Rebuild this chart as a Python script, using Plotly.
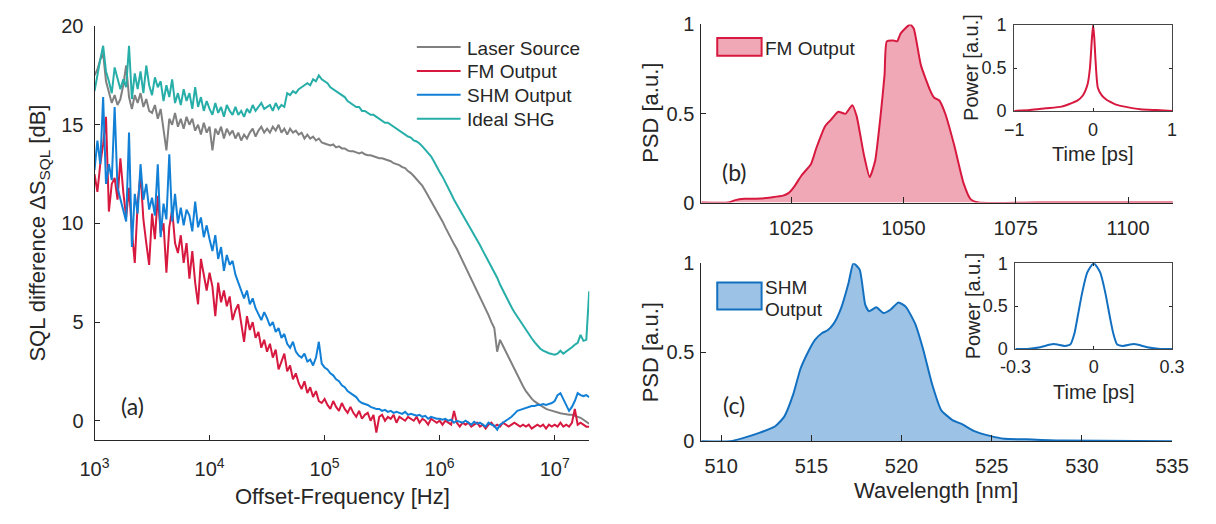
import numpy as np
import plotly.graph_objects as go

W, H = 1216, 524
FONT = "Liberation Sans, Arial, Helvetica, sans-serif"
LABEL_FONT = "Lato, Open Sans, sans-serif"
INK = "#262626"

C_LASER = "#808080"
C_FM = "#D7193F"
C_SHM = "#1280D6"
C_SHG = "#27AEA8"
C_SHM_SPEC = "#1370C0"

# ---------------- (a) SQL difference vs offset frequency ----------------
# 0.025-decade sampling from 1 kHz to 20 MHz
log_freq = np.round(3.0 + 0.025 * np.arange(173), 3)
freq_hz = 10 ** log_freq

laser_source_rows = [
    [17.5, 17.8, 18.3, 18.6, 17.2, 16.7, 16.1, 16.5, 16.0, 16.3],
    [17.0, 18.0, 16.4, 15.8, 16.5, 16.1, 16.6, 15.9, 16.3, 15.7],
    [15.6, 16.0, 15.3, 15.8, 14.8, 13.7, 15.3, 15.0, 15.6, 14.9],
    [15.3, 14.8, 15.4, 15.0, 15.3, 14.7, 15.0, 14.5, 15.1, 14.6],
    [14.9, 13.7, 14.8, 14.5, 14.9, 14.3, 14.8, 14.5, 14.7, 14.3],
    [14.6, 14.2, 14.5, 14.3, 14.6, 14.8, 14.4, 14.7, 14.9, 14.6],
    [14.8, 14.6, 14.9, 14.7, 15.0, 14.6, 14.8, 14.5, 14.8, 14.6],
    [14.7, 14.5, 14.6, 14.3, 14.5, 14.3, 14.4, 14.2, 14.3, 14.1],
    [14.05, 14.0, 13.95, 14.0, 13.85, 13.9, 13.8, 13.8, 13.7, 13.65],
    [13.65, 13.6, 13.55, 13.6, 13.5, 13.45, 13.45, 13.4, 13.35, 13.3],
    [13.3, 13.25, 13.2, 13.15, 13.05, 13.0, 12.95, 12.85, 12.8, 12.65],
    [12.55, 12.4, 12.25, 12.1, 11.9, 11.65, 11.4, 11.15, 10.9, 10.6],
    [10.35, 10.1, 9.8, 9.5, 9.25, 8.95, 8.7, 8.4, 8.1, 7.8],
    [7.5, 7.2, 6.9, 6.6, 6.3, 6.0, 5.65, 5.35, 5.0, 4.7],
    [3.5, 4.1, 3.8, 3.5, 3.2, 2.9, 2.6, 2.3, 2.0, 1.75],
    [1.5, 1.3, 1.12, 0.98, 0.88, 0.8, 0.7, 0.6, 0.55, 0.5],
    [0.45, 0.42, 0.38, 0.35, 0.32, 0.3, 0.3, 0.25, 0.22, 0.15],
    [0.05, -0.05, -0.15],
]

fm_output_rows = [
    [12.5, 11.6, 13.0, 14.0, 15.4, 10.6, 12.0, 12.3, 11.2, 13.3],
    [11.6, 10.3, 11.8, 9.6, 8.0, 11.0, 12.5, 10.2, 9.0, 7.9],
    [10.5, 9.2, 11.4, 9.5, 10.0, 7.5, 9.8, 10.7, 9.0, 8.5],
    [9.4, 8.0, 9.0, 7.2, 8.6, 7.0, 5.9, 8.2, 7.4, 6.6],
    [7.5, 6.8, 5.3, 7.0, 6.0, 6.6, 5.8, 6.3, 5.1, 5.6],
    [5.9, 5.0, 4.0, 5.3, 4.6, 5.0, 4.2, 4.5, 3.7, 4.1],
    [3.5, 3.9, 3.2, 3.6, 2.6, 3.0, 3.4, 2.5, 2.8, 2.1],
    [2.4, 1.9, 1.6, 2.0, 1.4, 1.7, 1.2, 1.5, 1.0, 0.9],
    [1.1, 0.8, 0.6, 1.0, 0.7, 0.5, 0.9, 0.6, 0.4, 0.7],
    [0.4, 0.2, 0.5, 0.1, 0.3, 0.4, 0.0, 0.3, -0.6, 0.2],
    [0.3, 0.0, 0.2, 0.1, 0.3, -0.1, 0.2, 0.1, 0.0, 0.2],
    [0.1, 0.0, 0.2, -0.1, 0.1, 0.0, -0.2, 0.1, 0.0, -0.1],
    [0.0, -0.2, 0.0, -0.1, -0.2, 0.5, -0.1, -0.3, -0.1, -0.2],
    [-0.1, -0.3, -0.2, -0.1, -0.3, -0.2, -0.4, -0.2, -0.1, -0.3],
    [-0.2, -0.3, -0.1, -0.2, -0.3, -0.2, -0.1, -0.2, -0.3, -0.2],
    [-0.3, -0.2, -0.4, -0.3, -0.2, -0.3, -0.2, -0.4, -0.2, -0.3],
    [-0.2, -0.3, -0.1, -0.3, -0.2, -0.3, -0.1, 0.6, -0.2, -0.1],
    [-0.2, -0.3, -0.3],
]

shm_output_rows = [
    [12.7, 14.2, 13.0, 16.4, 12.0, 13.0, 12.2, 15.9, 11.8, 11.2],
    [10.6, 10.1, 14.6, 8.8, 11.5, 10.5, 13.0, 11.2, 12.0, 10.7],
    [11.3, 10.4, 13.0, 9.3, 11.0, 10.2, 13.5, 10.1, 11.5, 10.0],
    [10.8, 9.9, 10.7, 10.4, 9.6, 11.1, 9.8, 10.3, 9.3, 9.9],
    [9.2, 8.6, 9.4, 8.2, 8.8, 7.6, 8.4, 7.9, 8.1, 7.4],
    [7.0, 6.6, 6.2, 6.6, 5.9, 6.2, 5.7, 5.4, 5.1, 5.5],
    [5.2, 4.8, 5.0, 4.5, 4.7, 4.2, 4.4, 3.9, 3.7, 4.0],
    [3.5, 3.3, 3.2, 3.4, 3.0, 3.1, 2.8, 3.2, 4.0, 2.9],
    [2.7, 2.6, 2.4, 2.3, 2.1, 2.0, 1.8, 1.7, 1.5, 1.4],
    [1.3, 1.2, 1.0, 0.9, 0.85, 0.8, 0.7, 0.65, 0.6, 0.6],
    [0.5, 0.55, 0.45, 0.5, 0.4, 0.45, 0.4, 0.35, 0.45, 0.3],
    [0.35, 0.3, 0.25, 0.3, 0.2, 0.25, 0.1, 0.2, 0.15, 0.1],
    [0.1, 0.05, 0.1, 0.0, 0.05, -0.1, 0.0, -0.05, -0.1, 0.0],
    [-0.1, -0.2, -0.05, -0.15, -0.1, -0.2, -0.3, -0.1, -0.2, -0.25],
    [-0.45, -0.2, -0.1, 0.0, 0.1, 0.2, 0.35, 0.5, 0.55, 0.6],
    [0.65, 0.7, 0.75, 0.75, 0.8, 0.8, 0.85, 0.8, 0.85, 0.9],
    [1.0, 1.3, 1.4, 1.1, 0.8, 0.5, 0.7, 1.0, 1.4, 1.3],
    [1.25, 1.3, 1.2],
]

ideal_shg_rows = [
    [16.7, 17.6, 18.3, 19.0, 17.7, 17.2, 16.6, 17.9, 17.4, 16.8],
    [17.3, 16.9, 19.0, 16.3, 17.6, 16.8, 17.7, 16.6, 18.0, 17.0],
    [16.5, 17.4, 16.9, 17.2, 16.2, 17.0, 16.4, 17.3, 16.1, 16.6],
    [16.0, 16.8, 16.2, 16.6, 15.8, 16.9, 15.9, 16.4, 15.7, 16.2],
    [15.8, 15.5, 16.1, 15.6, 15.9, 15.4, 16.0, 15.7, 15.5, 15.9],
    [15.5, 15.7, 15.4, 15.8, 15.6, 16.0, 15.7, 15.9, 16.1, 15.8],
    [15.9, 16.0, 15.7, 16.1, 15.8, 16.0, 15.9, 16.6, 16.5, 16.7],
    [16.6, 16.8, 16.9, 17.0, 17.1, 17.0, 17.3, 17.2, 17.5, 17.3],
    [17.2, 17.1, 16.9, 16.8, 16.7, 16.6, 16.5, 16.4, 16.2, 16.1],
    [16.0, 15.9, 15.9, 15.7, 15.7, 15.6, 15.5, 15.5, 15.4, 15.3],
    [15.2, 15.1, 15.1, 15.0, 14.9, 14.8, 14.7, 14.6, 14.5, 14.4],
    [14.35, 14.2, 14.15, 14.05, 13.9, 13.75, 13.6, 13.4, 13.15, 12.85],
    [12.6, 12.37, 12.1, 11.8, 11.5, 11.2, 10.95, 10.7, 10.45, 10.2],
    [9.9, 9.65, 9.4, 9.15, 8.9, 8.62, 8.35, 8.1, 7.85, 7.55],
    [7.25, 6.9, 6.6, 6.3, 6.0, 5.75, 5.5, 5.27, 5.05, 4.85],
    [4.6, 4.4, 4.18, 3.98, 3.8, 3.65, 3.55, 3.47, 3.42, 3.38],
    [3.35, 3.4, 3.55, 3.4, 3.5, 3.6, 3.72, 3.85, 3.95, 4.35],
    [4.05, 4.1, 6.56],
]


def flat(rows):
    return [v for row in rows for v in row]


laser_source = flat(laser_source_rows)
fm_output = flat(fm_output_rows)
shm_output = flat(shm_output_rows)
ideal_shg = flat(ideal_shg_rows)

freq_ticks = [1e3, 1e4, 1e5, 1e6, 1e7]
freq_tick_text = ["10<sup>3</sup>", "10<sup>4</sup>", "10<sup>5</sup>",
                  "10<sup>6</sup>", "10<sup>7</sup>"]
sql_ticks = [0, 5, 10, 15, 20]

# ---------------- (b) FM output spectrum ----------------
fm_wavelength_nm = [1005, 1011, 1012.6, 1014.6, 1018.3, 1023.2, 1024.4, 1025.7,
                    1027.3, 1029.4, 1030.6, 1032.6, 1033.9, 1035.5, 1037.1, 1038.6,
                    1039.6, 1041.2, 1042.5, 1043.7, 1044.9, 1045.8, 1046.3, 1047.8,
                    1048.6, 1049.4, 1051.5, 1052.3, 1053.9, 1056.0, 1056.8, 1058.0,
                    1059.3, 1061.3, 1063.4, 1065.0, 1066.7, 1080, 1110]
fm_psd = [0, 0, 0.014, 0.021, 0.023, 0.039, 0.053, 0.09,
          0.152, 0.215, 0.305, 0.43, 0.466, 0.51, 0.498, 0.547,
          0.484, 0.269, 0.143, 0.233, 0.484, 0.717, 0.905, 0.91,
          0.905, 0.95, 1.0, 0.977, 0.77, 0.627, 0.59, 0.573,
          0.50, 0.323, 0.108, 0.018, 0.0, 0.0, 0.0]
fm_wl_ticks = [1025, 1050, 1075, 1100]

fm_time_ps = [-1.0, -0.8, -0.6, -0.4, -0.3, -0.25, -0.2, -0.13, -0.07, -0.04, -0.016,
              0.0, 0.015, 0.03, 0.06, 0.11, 0.17, 0.23, 0.3, 0.4, 0.6, 0.8, 1.0]
fm_pulse = [0.0, 0.01, 0.03, 0.05, 0.08, 0.10, 0.12, 0.18, 0.31, 0.5, 0.83,
            1.0, 0.85, 0.6, 0.27, 0.18, 0.13, 0.1, 0.07, 0.05, 0.02, 0.01, 0.0]

# ---------------- (c) SHM output spectrum ----------------
shm_wavelength_nm = [508.9, 510.5, 511.3, 512.15, 513.0, 513.5, 514.0, 514.4, 514.8,
                     515.2, 515.6, 515.9, 516.25, 516.65, 517.07, 517.33, 517.68,
                     517.99, 518.2, 518.6, 519.0, 519.4, 519.83, 520.24, 520.76,
                     521.2, 521.7, 522.2, 522.8, 523.4, 524.0, 524.85, 525.7,
                     526.9, 528.9, 535]
shm_psd = [0, 0, 0.02, 0.048, 0.084, 0.138, 0.264, 0.407, 0.497,
           0.569, 0.608, 0.623, 0.662, 0.748, 0.892, 1.0, 0.964,
           0.766, 0.73, 0.752, 0.72, 0.74, 0.78, 0.755, 0.659,
           0.515, 0.318, 0.174, 0.12, 0.093, 0.058, 0.031, 0.013,
           0.01, 0.003, 0]
shm_wl_ticks = [510, 515, 520, 525, 530, 535]

shm_time_ps = [-0.3, -0.255, -0.205, -0.155, -0.112, -0.09, -0.074, -0.062, -0.044,
               -0.025, 0.0, 0.025, 0.044, 0.062, 0.075, 0.09, 0.112, 0.155, 0.205,
               0.255, 0.3]
shm_pulse = [0.0, 0.0, 0.02, 0.056, 0.035, 0.05, 0.18, 0.37, 0.66,
             0.89, 1.0, 0.89, 0.66, 0.37, 0.18, 0.05, 0.035, 0.056, 0.02,
             0.0, 0.0]

unit_ticks = [0, 0.5, 1]
unit_tick_text = ["0", "0.5", "1"]


# pixel -> paper helpers for layout placement
def px(x):
    return x / W


def py(y):
    return 1 - y / H


def axis_style(**kw):
    style = dict(showline=True, linecolor=INK, linewidth=1, ticks="inside",
                 ticklen=5, tickwidth=1, tickcolor=INK, showgrid=False,
                 zeroline=False, mirror=False,
                 tickfont=dict(family=FONT, size=20, color=INK))
    style.update(kw)
    return style


INSET_TICK_FONT = dict(family=FONT, size=18, color=INK)

fig = go.Figure()

# (a) traces, drawn in legend order
for name, values, color in [("Laser Source", laser_source, C_LASER),
                            ("FM Output", fm_output, C_FM),
                            ("SHM Output", shm_output, C_SHM),
                            ("Ideal SHG", ideal_shg, C_SHG)]:
    fig.add_trace(go.Scatter(x=freq_hz, y=values, mode="lines", name=name,
                             line=dict(color=color, width=2),
                             xaxis="x", yaxis="y", showlegend=False))

# (b) spectrum and pulse
fig.add_trace(go.Scatter(x=fm_wavelength_nm, y=fm_psd, mode="lines", fill="tozeroy",
                         fillcolor="rgba(215,25,63,0.38)",
                         line=dict(color=C_FM, width=2, shape="spline", smoothing=0.5),
                         xaxis="x2", yaxis="y2", showlegend=False))
fig.add_trace(go.Scatter(x=fm_time_ps, y=fm_pulse, mode="lines",
                         line=dict(color=C_FM, width=2, shape="spline", smoothing=0.6),
                         xaxis="x4", yaxis="y4", showlegend=False))

# (c) spectrum and pulse
fig.add_trace(go.Scatter(x=shm_wavelength_nm, y=shm_psd, mode="lines", fill="tozeroy",
                         fillcolor="rgba(19,112,192,0.42)",
                         line=dict(color=C_SHM_SPEC, width=2, shape="spline", smoothing=0.5),
                         xaxis="x3", yaxis="y3", showlegend=False))
fig.add_trace(go.Scatter(x=shm_time_ps, y=shm_pulse, mode="lines",
                         line=dict(color=C_SHM_SPEC, width=2, shape="spline", smoothing=0.6),
                         xaxis="x5", yaxis="y5", showlegend=False))

fig.update_layout(
    width=W, height=H, margin=dict(l=0, r=0, t=0, b=0),
    paper_bgcolor="white", plot_bgcolor="rgba(0,0,0,0)",
    font=dict(family=FONT, color=INK, size=20),
    xaxis=axis_style(type="log", range=[3, np.log10(2e7)], domain=[px(80.7), px(589.3)],
                     anchor="y", tickvals=freq_ticks, ticktext=freq_tick_text,
                     ticklabelstandoff=11),
    yaxis=axis_style(range=[-1, 20], domain=[py(448.3), py(15.7)], anchor="x",
                     tickvals=sql_ticks, ticklabelstandoff=6),
    xaxis2=axis_style(range=[1005, 1110], domain=[px(704.4), px(1189.2)], anchor="y2",
                      tickvals=fm_wl_ticks, ticklen=6, ticklabelstandoff=7),
    yaxis2=axis_style(range=[0, 1], domain=[py(200), py(14)], anchor="x2",
                      tickvals=unit_ticks, ticktext=unit_tick_text, ticklabelstandoff=2),
    xaxis3=axis_style(range=[508.9, 535], domain=[px(704.4), px(1188.4)], anchor="y3",
                      tickvals=shm_wl_ticks, ticklen=6, ticklabelstandoff=7),
    yaxis3=axis_style(range=[0, 1], domain=[py(449), py(263.3)], anchor="x3",
                      tickvals=unit_ticks, ticktext=unit_tick_text, ticklabelstandoff=2),
    xaxis4=axis_style(range=[-1, 1], domain=[px(1026), px(1188.3)], anchor="y4",
                      tickvals=[-1, 0, 1], mirror="ticks", linecolor="#454545",
                      ticklen=3, ticklabelstandoff=2, tickfont=INSET_TICK_FONT),
    yaxis4=axis_style(range=[0, 1], domain=[py(104.3), py(14.7)], anchor="x4",
                      tickvals=unit_ticks, ticktext=unit_tick_text, mirror="ticks",
                      linecolor="#454545", ticklen=3, ticklabelstandoff=3,
                      tickfont=INSET_TICK_FONT),
    xaxis5=axis_style(range=[-0.3, 0.3], domain=[px(1027.3), px(1188.3)], anchor="y5",
                      tickvals=[-0.3, 0, 0.3], ticktext=["-0.3", "0", "0.3"],
                      mirror="ticks", linecolor="#454545", ticklen=3, ticklabelstandoff=2,
                      tickfont=INSET_TICK_FONT),
    yaxis5=axis_style(range=[0, 1], domain=[py(352.7), py(263.3)], anchor="x5",
                      tickvals=unit_ticks, ticktext=unit_tick_text, mirror="ticks",
                      linecolor="#454545", ticklen=3, ticklabelstandoff=3,
                      tickfont=INSET_TICK_FONT),
)

annotations = []
shapes = []


def text(x, y, s, size=20, angle=0, xanchor="center", family=FONT):
    annotations.append(dict(x=px(x), y=py(y), xref="paper", yref="paper", text=s,
                            showarrow=False, textangle=angle, xanchor=xanchor,
                            yanchor="middle", font=dict(family=family, size=size, color=INK)))


# axis titles
text(24, 232, "SQL difference ΔS<sub>SQL</sub> [dB]", size=22, angle=-90)
text(336, 507, "Offset-Frequency [Hz]", size=22)
text(652, 106, "PSD [a.u.]", size=22, angle=-90)
text(652, 356, "PSD [a.u.]", size=22, angle=-90)
text(946, 500, "Wavelength [nm]", size=22)
text(981, 59, "Power [a.u.]", size=20, angle=-90)
text(1107, 149, "Time [ps]", size=20)
text(984, 308, "Power [a.u.]", size=20, angle=-90)
text(1108, 398, "Time [ps]", size=20)

# panel labels
text(120, 412, "(a)", size=23, family=LABEL_FONT)
text(739, 168, "(b)", size=23, family=LABEL_FONT)
text(738, 411, "(c)", size=23, family=LABEL_FONT)

# legend of (a)
for i, (name, color) in enumerate([("Laser Source", C_LASER), ("FM Output", C_FM),
                                   ("SHM Output", C_SHM), ("Ideal SHG", C_SHG)]):
    yy = 37.7 + 24.9 * i
    shapes.append(dict(type="line", xref="paper", yref="paper", x0=px(412), x1=px(457),
                       y0=py(yy), y1=py(yy), line=dict(color=color, width=2)))
    text(462, yy + 1, name, size=19, xanchor="left")

# legend of (b)
shapes.append(dict(type="rect", xref="paper", yref="paper", x0=px(720.8), x1=px(766.4),
                   y0=py(46.7), y1=py(28.3), fillcolor="rgba(215,25,63,0.38)",
                   line=dict(color=C_FM, width=2)))
text(768, 39, "FM Output", size=19, xanchor="left")

# legend of (c)
shapes.append(dict(type="rect", xref="paper", yref="paper", x0=px(720.8), x1=px(766.4),
                   y0=py(311.7), y1=py(283.3), fillcolor="rgba(19,112,192,0.42)",
                   line=dict(color=C_SHM_SPEC, width=2)))
text(768, 289, "SHM", size=19, xanchor="left")
text(768, 312, "Output", size=19, xanchor="left")

fig.update_layout(annotations=annotations, shapes=shapes)

fig.write_html("out.html")
